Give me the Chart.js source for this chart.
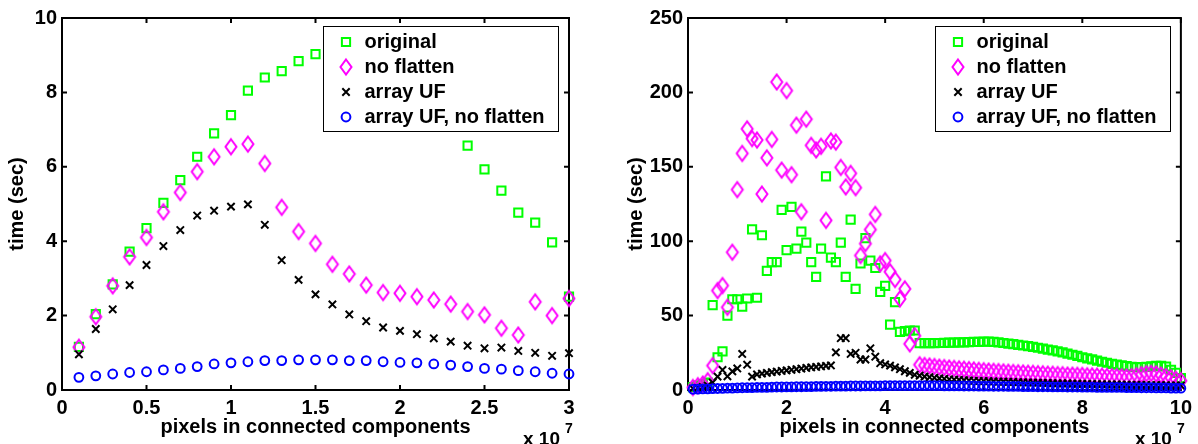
<!DOCTYPE html>
<html>
<head>
<meta charset="utf-8">
<script src="https://cdn.jsdelivr.net/npm/chart.js@4.4.1/dist/chart.umd.min.js"></script>
<style>
    html, body { margin: 0; padding: 0; background: #fff; }
    #wrap { position: relative; width: 1198px; height: 444px; }
    #wrap canvas { position: absolute; top: 0; }
</style>
</head>
<body>
<div id="wrap">
    <canvas id="left-chart" width="599" height="444" style="left:0"></canvas>
    <canvas id="right-chart" width="599" height="444" style="left:599px"></canvas>
</div>
<script>
// x values are in units of 1e7 pixels (axis carries "x 10^7")
const seriesNames = ['original', 'no flatten', 'array UF', 'array UF, no flatten'];

// left panel
const leftX = [0.1, 0.2, 0.3, 0.4, 0.5, 0.6, 0.7, 0.8, 0.9, 1.0,
    1.1, 1.2, 1.3, 1.4, 1.5, 1.6, 1.7, 1.8, 1.9, 2.0,
    2.1, 2.2, 2.3, 2.4, 2.5, 2.6, 2.7, 2.8, 2.9, 3.0];
const leftOriginal = [1.16, 2.04, 2.84, 3.72, 4.35, 5.03, 5.64, 6.27, 6.9, 7.39,
    8.05, 8.4, 8.57, 8.84, 9.03, 9.2, 9.25, 9.2, 9.05, 8.8,
    8.4, 7.9, 7.2, 6.57, 5.93, 5.36, 4.77, 4.5, 3.97, 2.51];
const leftNoFlatten = [1.15, 1.97, 2.8, 3.58, 4.1, 4.79, 5.31, 5.87, 6.27, 6.54,
    6.61, 6.09, 4.91, 4.26, 3.94, 3.38, 3.12, 2.82, 2.62, 2.6,
    2.51, 2.42, 2.31, 2.11, 2.02, 1.66, 1.48, 2.37, 2.0, 2.46];
const leftArrayUF = [0.96, 1.64, 2.17, 2.82, 3.36, 3.87, 4.3, 4.69, 4.82, 4.93,
    4.99, 4.44, 3.49, 2.96, 2.57, 2.3, 2.03, 1.85, 1.68, 1.59,
    1.5, 1.39, 1.3, 1.19, 1.12, 1.14, 1.05, 1.0, 0.92, 0.99];
const leftArrayUFNoFlatten = [0.34, 0.38, 0.43, 0.47, 0.49, 0.54, 0.58, 0.63, 0.7, 0.73,
    0.76, 0.79, 0.79, 0.81, 0.81, 0.81, 0.79, 0.79, 0.76, 0.74,
    0.73, 0.7, 0.67, 0.63, 0.58, 0.56, 0.52, 0.49, 0.45, 0.43];
const leftXTicks = [0, 0.5, 1, 1.5, 2, 2.5, 3];
const leftYTicks = [0, 2, 4, 6, 8, 10];

// right panel
const rightX = [0.1, 0.2, 0.3, 0.4, 0.5, 0.6, 0.7, 0.8, 0.9, 1.0,
    1.1, 1.2, 1.3, 1.4, 1.5, 1.6, 1.7, 1.8, 1.9, 2.0,
    2.1, 2.2, 2.3, 2.4, 2.5, 2.6, 2.7, 2.8, 2.9, 3.0,
    3.1, 3.2, 3.3, 3.4, 3.5, 3.6, 3.7, 3.8, 3.9, 4.0,
    4.1, 4.2, 4.3, 4.4, 4.5, 4.6, 4.7, 4.8, 4.9, 5.0,
    5.1, 5.2, 5.3, 5.4, 5.5, 5.6, 5.7, 5.8, 5.9, 6.0,
    6.1, 6.2, 6.3, 6.4, 6.5, 6.6, 6.7, 6.8, 6.9, 7.0,
    7.1, 7.2, 7.3, 7.4, 7.5, 7.6, 7.7, 7.8, 7.9, 8.0,
    8.1, 8.2, 8.3, 8.4, 8.5, 8.6, 8.7, 8.8, 8.9, 9.0,
    9.1, 9.2, 9.3, 9.4, 9.5, 9.6, 9.7, 9.8, 9.9, 10.0];
const rightOriginal = [2, 3, 4, 5, 57, 22, 26, 50, 61, 61,
    56, 61.5, 108, 62, 104, 80, 86, 86, 121, 94,
    123, 95, 106.5, 99, 86, 76, 95, 143.5, 89, 86,
    99, 76, 114.5, 68, 85, 102, 87, 82, 66, 70,
    44, 59, 39, 39.5, 40, 40, 31.5, 31.5, 31.5, 31.5,
    31.6, 31.7, 31.8, 31.9, 32, 32, 32.2, 32.3, 32.4, 32.5,
    32.5, 32.3, 32, 31.6, 31.2, 30.8, 30.3, 29.9, 29.5, 29,
    28.4, 27.8, 27.2, 26.6, 26, 25.3, 24.5, 23.7, 22.9, 22,
    21.3, 20.6, 19.8, 19, 18.3, 17.6, 17, 16.5, 16, 15.6,
    15.3, 15.4, 15.6, 15.9, 16.2, 16.3, 15.8, 13.5, 11.5, 8];
const rightNoFlatten = [1.7, 2.9, 4, 6.3, 16.4, 66.8, 70.2, 55.6, 92.6, 134.7,
    159, 175.5, 169, 168, 131.7, 156, 168.4, 207, 147.8, 201.2,
    144.7, 178, 119.8, 182, 164.4, 161.3, 163.8, 114, 167.4, 166.6,
    149.6, 136.5, 145.6, 136, 90.4, 98.4, 107.8, 118, 84.8, 87,
    79.5, 74.3, 61.2, 68, 31, 36.5, 17, 16.5, 16.2, 15.8,
    15.4, 15.1, 14.8, 14.5, 14.2, 14, 13.7, 13.5, 13.2, 13,
    12.8, 12.6, 12.4, 12.2, 12, 11.8, 11.6, 11.5, 11.3, 11.2,
    11, 10.9, 10.7, 10.6, 10.4, 10.3, 10.1, 10, 9.9, 9.8,
    9.6, 9.5, 9.4, 9.3, 9.1, 9, 9, 8.9, 8.8, 9,
    9.6, 10.4, 11, 11.2, 10.8, 10, 9, 8.2, 7.2, 6.3];
const rightArrayUF = [1, 1.5, 2, 3, 5, 9, 13.5, 9.2, 12.5, 14.5,
    24.2, 17, 9, 10.5, 11, 11.5, 12, 12.4, 12.8, 13.2,
    13.6, 14, 14.4, 14.8, 15.2, 15.5, 15.8, 16.2, 16.5, 25.3,
    34.8, 34.8, 24.2, 25, 20.5, 20.5, 28, 22.4, 18, 17.2,
    16.4, 15.2, 14, 12.6, 11.5, 10.2, 9.6, 9, 8.6, 8.2,
    7.8, 7.5, 7.2, 7, 6.8, 6.6, 6.4, 6.2, 6.1, 6,
    5.9, 5.8, 5.7, 5.6, 5.5, 5.4, 5.3, 5.2, 5.1, 5,
    4.9, 4.8, 4.7, 4.6, 4.5, 4.4, 4.4, 4.3, 4.2, 4.1,
    4.1, 4, 3.9, 3.9, 3.8, 3.7, 3.7, 3.6, 3.6, 3.5,
    3.5, 3.4, 3.4, 3.3, 3.3, 3.2, 3.2, 3.1, 3.1, 3];
const rightArrayUFNoFlatten = [0.5, 0.6, 0.7, 0.8, 0.9, 1.0, 1.1, 1.2, 1.3, 1.4,
    1.5, 1.6, 1.6, 1.7, 1.8, 1.8, 1.9, 2.0, 2.0, 2.1,
    2.1, 2.2, 2.2, 2.3, 2.3, 2.4, 2.4, 2.5, 2.5, 2.6,
    2.6, 2.6, 2.7, 2.7, 2.7, 2.8, 2.8, 2.8, 2.8, 2.9,
    2.9, 2.9, 2.9, 2.9, 2.9, 2.9, 2.9, 2.9, 2.9, 2.9,
    2.9, 2.8, 2.8, 2.8, 2.8, 2.7, 2.7, 2.7, 2.6, 2.6,
    2.6, 2.5, 2.5, 2.5, 2.4, 2.4, 2.4, 2.3, 2.3, 2.3,
    2.2, 2.2, 2.2, 2.1, 2.1, 2.1, 2.0, 2.0, 2.0, 1.9,
    1.9, 1.9, 1.8, 1.8, 1.8, 1.7, 1.7, 1.7, 1.6, 1.6,
    1.6, 1.5, 1.5, 1.5, 1.4, 1.4, 1.4, 1.3, 1.3, 1.2];
const rightXTicks = [0, 2, 4, 6, 8, 10];
const rightYTicks = [0, 50, 100, 150, 200, 250];

const FONT = '"Liberation Sans", Arial, Helvetica, sans-serif';
Chart.defaults.font.family = FONT;
Chart.defaults.color = '#000';

// matlab's diamond is taller than wide, so it gets its own little canvas
function makeDiamond(color) {
    const c = document.createElement('canvas');
    c.width = 20;
    c.height = 20;
    const ctx = c.getContext('2d');
    ctx.strokeStyle = color;
    ctx.lineWidth = 2;
    ctx.beginPath();
    ctx.moveTo(10, 2.5);
    ctx.lineTo(15.5, 10);
    ctx.lineTo(10, 17.5);
    ctx.lineTo(4.5, 10);
    ctx.closePath();
    ctx.stroke();
    return c;
}

const markerStyles = [
    { pointStyle: 'rect', radius: 5.8, color: '#00ff00' },
    { pointStyle: makeDiamond('#ff00ff'), radius: 5, color: '#ff00ff' },
    { pointStyle: 'crossRot', radius: 5.2, color: '#000000' },
    { pointStyle: 'circle', radius: 4.4, color: '#0000ff' }
];

// frame box with inward ticks on all four sides
const frameTicks = {
    id: 'frameTicks',
    beforeDatasetsDraw(chart) {
        const { ctx, chartArea: a, scales } = chart;
        ctx.save();
        ctx.strokeStyle = '#000';
        ctx.lineWidth = 2;
        ctx.strokeRect(a.left, a.top, a.right - a.left, a.bottom - a.top);
        ctx.beginPath();
        scales.x.ticks.forEach(t => {
            const px = scales.x.getPixelForValue(t.value);
            ctx.moveTo(px, a.bottom); ctx.lineTo(px, a.bottom - 5);
            ctx.moveTo(px, a.top); ctx.lineTo(px, a.top + 5);
        });
        scales.y.ticks.forEach(t => {
            const py = scales.y.getPixelForValue(t.value);
            ctx.moveTo(a.left, py); ctx.lineTo(a.left + 5, py);
            ctx.moveTo(a.right, py); ctx.lineTo(a.right - 5, py);
        });
        ctx.stroke();
        ctx.restore();
    }
};

// opaque legend box in the upper right corner, drawn over the data
const boxLegend = {
    id: 'boxLegend',
    afterDatasetsDraw(chart) {
        const { ctx, chartArea: a } = chart;
        const w = 235, h = 105;
        const left = Math.round(a.right - 11 - w);
        const top = Math.round(a.top + 8);
        ctx.save();
        ctx.fillStyle = '#fff';
        ctx.fillRect(left, top, w, h);
        ctx.strokeStyle = '#000';
        ctx.lineWidth = 1;
        ctx.strokeRect(left + 0.5, top + 0.5, w, h);
        ctx.font = 'bold 20px ' + FONT;
        ctx.textBaseline = 'middle';
        chart.data.datasets.forEach((d, i) => {
            const y = Math.round(top + 15.5 + i * 25.3);
            const mx = left + 23;
            ctx.fillStyle = 'rgba(0,0,0,0)';
            ctx.strokeStyle = d.pointBorderColor;
            ctx.lineWidth = 2;
            Chart.helpers.drawPoint(ctx, {
                pointStyle: d.pointStyle,
                radius: d.pointRadius,
                rotation: 0,
                borderWidth: 2
            }, mx, y);
            ctx.fillStyle = '#000';
            ctx.fillText(d.label, left + 41.5, y);
        });
        ctx.restore();
    }
};

// "x 10^7" exponent under the right end of the x axis
const exponentLabel = {
    id: 'exponentLabel',
    afterDraw(chart) {
        const { ctx, chartArea: a } = chart;
        ctx.save();
        ctx.fillStyle = '#000';
        ctx.textBaseline = 'alphabetic';
        ctx.font = 'bold 19px ' + FONT;
        ctx.fillText('x 10', a.right - 46, 445);
        ctx.font = 'bold 14px ' + FONT;
        ctx.fillText('7', a.right - 4, 433);
        ctx.restore();
    }
};

function buildDatasets(xs, ys) {
    return ys.map((vals, i) => ({
        label: seriesNames[i],
        data: xs.map((x, j) => ({ x: x, y: vals[j] })),
        pointStyle: markerStyles[i].pointStyle,
        pointRadius: markerStyles[i].radius,
        pointHoverRadius: markerStyles[i].radius,
        pointBorderColor: markerStyles[i].color,
        pointBackgroundColor: 'rgba(0,0,0,0)',
        pointBorderWidth: 2,
        showLine: false,
        clip: false,
        order: 4 - i
    }));
}

function renderPanel(canvasId, cfg) {
    const ctx = document.getElementById(canvasId).getContext('2d');
    const tickFont = { size: 20, weight: 'bold' };
    new Chart(ctx, {
        type: 'scatter',
        data: { datasets: buildDatasets(cfg.xs, cfg.ys) },
        options: {
            responsive: false,
            animation: false,
            events: [],
            layout: { padding: { left: 0, top: 18, right: cfg.padRight, bottom: 0 } },
            scales: {
                x: {
                    type: 'linear',
                    min: cfg.xTicks[0],
                    max: cfg.xTicks[cfg.xTicks.length - 1],
                    afterBuildTicks: s => { s.ticks = cfg.xTicks.map(v => ({ value: v })); },
                    afterFit: s => { s.height = 54; },
                    grid: { display: false, drawTicks: false },
                    border: { display: false },
                    ticks: { font: tickFont, padding: 6, maxRotation: 0, callback: v => String(v) },
                    title: {
                        display: true,
                        text: 'pixels in connected components',
                        font: { size: 20, weight: 'bold' },
                        padding: { top: 0, bottom: 5 }
                    }
                },
                y: {
                    type: 'linear',
                    min: cfg.yTicks[0],
                    max: cfg.yTicks[cfg.yTicks.length - 1],
                    afterBuildTicks: s => { s.ticks = cfg.yTicks.map(v => ({ value: v })); },
                    afterFit: s => { s.width = cfg.yAxisWidth; },
                    grid: { display: false, drawTicks: false },
                    border: { display: false },
                    ticks: { font: tickFont, padding: 5, callback: v => String(v) },
                    title: {
                        display: true,
                        text: 'time (sec)',
                        font: { size: 20, weight: 'bold' },
                        padding: { top: cfg.titlePad, bottom: 0 }
                    }
                }
            },
            plugins: {
                legend: { display: false },
                tooltip: { enabled: false }
            }
        },
        plugins: [frameTicks, boxLegend, exponentLabel]
    });
}

renderPanel('left-chart', {
    xs: leftX,
    ys: [leftOriginal, leftNoFlatten, leftArrayUF, leftArrayUFNoFlatten],
    xTicks: leftXTicks,
    yTicks: leftYTicks,
    yAxisWidth: 62,
    padRight: 30,
    titlePad: 5
});

renderPanel('right-chart', {
    xs: rightX,
    ys: [rightOriginal, rightNoFlatten, rightArrayUF, rightArrayUFNoFlatten],
    xTicks: rightXTicks,
    yTicks: rightYTicks,
    yAxisWidth: 89,
    padRight: 16,
    titlePad: 25
});
</script>
</body>
</html>
